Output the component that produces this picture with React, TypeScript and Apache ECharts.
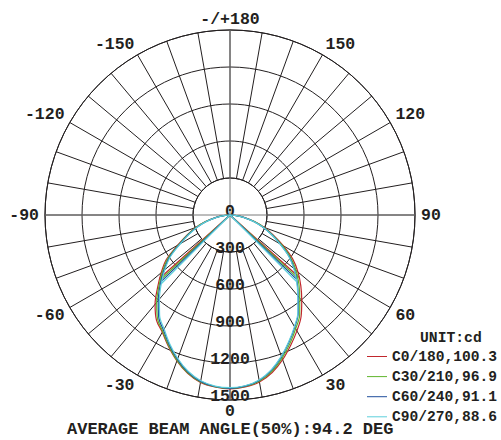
import React, { useEffect, useRef } from "react";
import * as echarts from "echarts";

// Gamma angles (deg from nadir) at which each half-curve is read
const ANGLES = [0, 5, 10, 15, 20, 25, 30, 35, 40, 45, 50, 55, 60, 65, 70, 75, 80, 85, 90];

const NAMES = ["C0/180,100.3", "C30/210,96.9", "C60/240,91.1", "C90/270,88.6"];
const COLORS = ["#c1272d", "#5fb52c", "#1f4d9b", "#5ccfdb"];

// Intensities (cd), right half (positive gamma)
const C0_RIGHT = [1410, 1400, 1375, 1322, 1248, 1165, 1085, 1005, 905, 812, 720, 620, 500, 390, 300, 205, 120, 55, 0];
const C30_RIGHT = [1405, 1395, 1368, 1312, 1235, 1150, 1065, 985, 880, 790, 700, 600, 485, 380, 290, 200, 115, 52, 0];
const C60_RIGHT = [1405, 1393, 1362, 1302, 1222, 1135, 1050, 965, 860, 770, 680, 585, 470, 370, 282, 195, 112, 50, 0];
const C90_RIGHT = [1400, 1390, 1358, 1298, 1218, 1130, 1045, 960, 855, 765, 675, 580, 465, 365, 280, 192, 110, 50, 0];

// Intensities (cd), left half (negative gamma)
const C0_LEFT = [1410, 1400, 1378, 1328, 1258, 1178, 1098, 1040, 945, 830, 728, 630, 490, 385, 295, 205, 120, 55, 0];
const C30_LEFT = [1405, 1398, 1375, 1325, 1255, 1172, 1090, 1025, 925, 815, 715, 615, 480, 378, 290, 200, 115, 52, 0];
const C60_LEFT = [1405, 1396, 1370, 1318, 1245, 1162, 1078, 1008, 905, 800, 700, 600, 470, 370, 282, 195, 112, 50, 0];
const C90_LEFT = [1400, 1393, 1365, 1312, 1238, 1155, 1068, 995, 890, 788, 690, 590, 462, 362, 278, 192, 110, 50, 0];

// Inner branch end points [gamma, cd]
const MERGE_RIGHT = [[48, 757], [47, 754], [46, 752], [45, 765]];
const MERGE_LEFT = [[-48, 769], [-47, 775], [-46, 780], [-45, 788]];

const RIGHTS = [C0_RIGHT, C30_RIGHT, C60_RIGHT, C90_RIGHT];
const LEFTS = [C0_LEFT, C30_LEFT, C60_LEFT, C90_LEFT];

const R_MAX = 1500;
const R_STEP = 300;

const TITLE = "AVERAGE BEAM ANGLE(50%):94.2 DEG";
const UNIT = "UNIT:cd";

const MONO = "'Liberation Mono', 'Courier New', monospace";
const INK = "#231f20";

function toAxisAngle(a: number) {
  return a < 0 ? a + 360 : a;
}

function buildOuter(right: number[], left: number[]) {
  const pts: number[][] = [];
  for (let i = ANGLES.length - 1; i >= 0; i--) pts.push([right[i], ANGLES[i]]);
  for (let i = 1; i < ANGLES.length; i++) pts.push([left[i], toAxisAngle(-ANGLES[i])]);
  return pts;
}

function buildInner(mr: number[], ml: number[]) {
  return [
    [ml[1], toAxisAngle(ml[0])],
    [0, toAxisAngle(ml[0])],
    [mr[1], mr[0]],
  ];
}

export default function App() {
  const ref = useRef<HTMLDivElement>(null);
  useEffect(() => {
    if (!ref.current) return;
    const chart = echarts.init(ref.current, undefined, { renderer: "svg" });
    const center = [230, 215];
    const series: any[] = [];
    NAMES.forEach((name, i) => {
      series.push({
        name,
        type: "line",
        coordinateSystem: "polar",
        polarIndex: 0,
        symbol: "none",
        smooth: 0.35,
        z: 3,
        lineStyle: { color: COLORS[i], width: 1.2 },
        itemStyle: { color: COLORS[i] },
        data: buildOuter(RIGHTS[i], LEFTS[i]),
      });
      series.push({
        name,
        type: "line",
        coordinateSystem: "polar",
        polarIndex: 0,
        symbol: "none",
        z: 3,
        lineStyle: { color: COLORS[i], width: 1.2 },
        itemStyle: { color: COLORS[i] },
        data: buildInner(MERGE_RIGHT[i], MERGE_LEFT[i]),
      });
    });
    chart.setOption({
      animation: false,
      backgroundColor: "#ffffff",
      polar: [
        { center, radius: [0, 185] },
        { center, radius: [37, 185] },
      ],
      angleAxis: [
        {
          polarIndex: 0,
          type: "value",
          min: 0,
          max: 360,
          interval: 90,
          startAngle: 270,
          clockwise: false,
          z: 1,
          axisLine: { show: false },
          axisTick: { show: false },
          axisLabel: { show: false },
          splitLine: { show: true, lineStyle: { color: "#7a7a7a", width: 1 } },
        },
        {
          polarIndex: 1,
          type: "value",
          min: -180,
          max: 180,
          interval: 10,
          startAngle: 90,
          clockwise: false,
          z: 0,
          axisLine: { show: true, lineStyle: { color: INK, width: 1 } },
          axisTick: { show: false },
          axisLabel: {
            show: true,
            margin: 6,
            fontFamily: MONO,
            fontWeight: "bold",
            fontSize: 16.5,
            lineHeight: 10,
            color: INK,
            formatter: (v: number) =>
              v === -180 ? "-/+180" : v % 30 === 0 ? String(v) : "",
          },
          splitLine: { show: true, lineStyle: { color: INK, width: 1 } },
        },
      ],
      radiusAxis: [
        {
          polarIndex: 0,
          type: "value",
          min: 0,
          max: R_MAX,
          interval: R_STEP,
          z: 1,
          axisLine: { show: false },
          axisTick: { show: false },
          axisLabel: {
            show: true,
            margin: 0,
            align: "center",
            verticalAlign: "bottom",
            lineHeight: 8,
            fontFamily: MONO,
            fontWeight: "bold",
            fontSize: 16.5,
            color: INK,
            formatter: (v: number) => String(v),
          },
          splitLine: { show: true, lineStyle: { color: INK, width: 1 } },
        },
        {
          polarIndex: 1,
          type: "value",
          min: 0,
          max: 1,
          axisLine: { show: false },
          axisTick: { show: false },
          axisLabel: { show: false },
          splitLine: { show: false },
        },
      ],
      legend: {
        orient: "vertical",
        left: 367,
        top: 349,
        padding: 0,
        icon: "rect",
        itemWidth: 20,
        itemHeight: 1,
        itemGap: 5.1,
        data: NAMES,
        textStyle: {
          fontFamily: MONO,
          fontWeight: "bold",
          fontSize: 14.6,
          lineHeight: 14,
          color: INK,
        },
      },
      title: [
        {
          text: UNIT,
          left: 420,
          top: 330,
          padding: 0,
          textStyle: { fontFamily: MONO, fontWeight: "bold", fontSize: 14.7, color: INK },
        },
        {
          text: TITLE,
          left: 67,
          top: 421,
          padding: 0,
          textStyle: { fontFamily: MONO, fontWeight: "bold", fontSize: 17, color: INK },
        },
      ],
      series,
    });
    return () => chart.dispose();
  }, []);
  return (
    <div
      ref={ref}
      style={{ position: "fixed", left: 0, top: 0, width: 501, height: 440 }}
    />
  );
}
